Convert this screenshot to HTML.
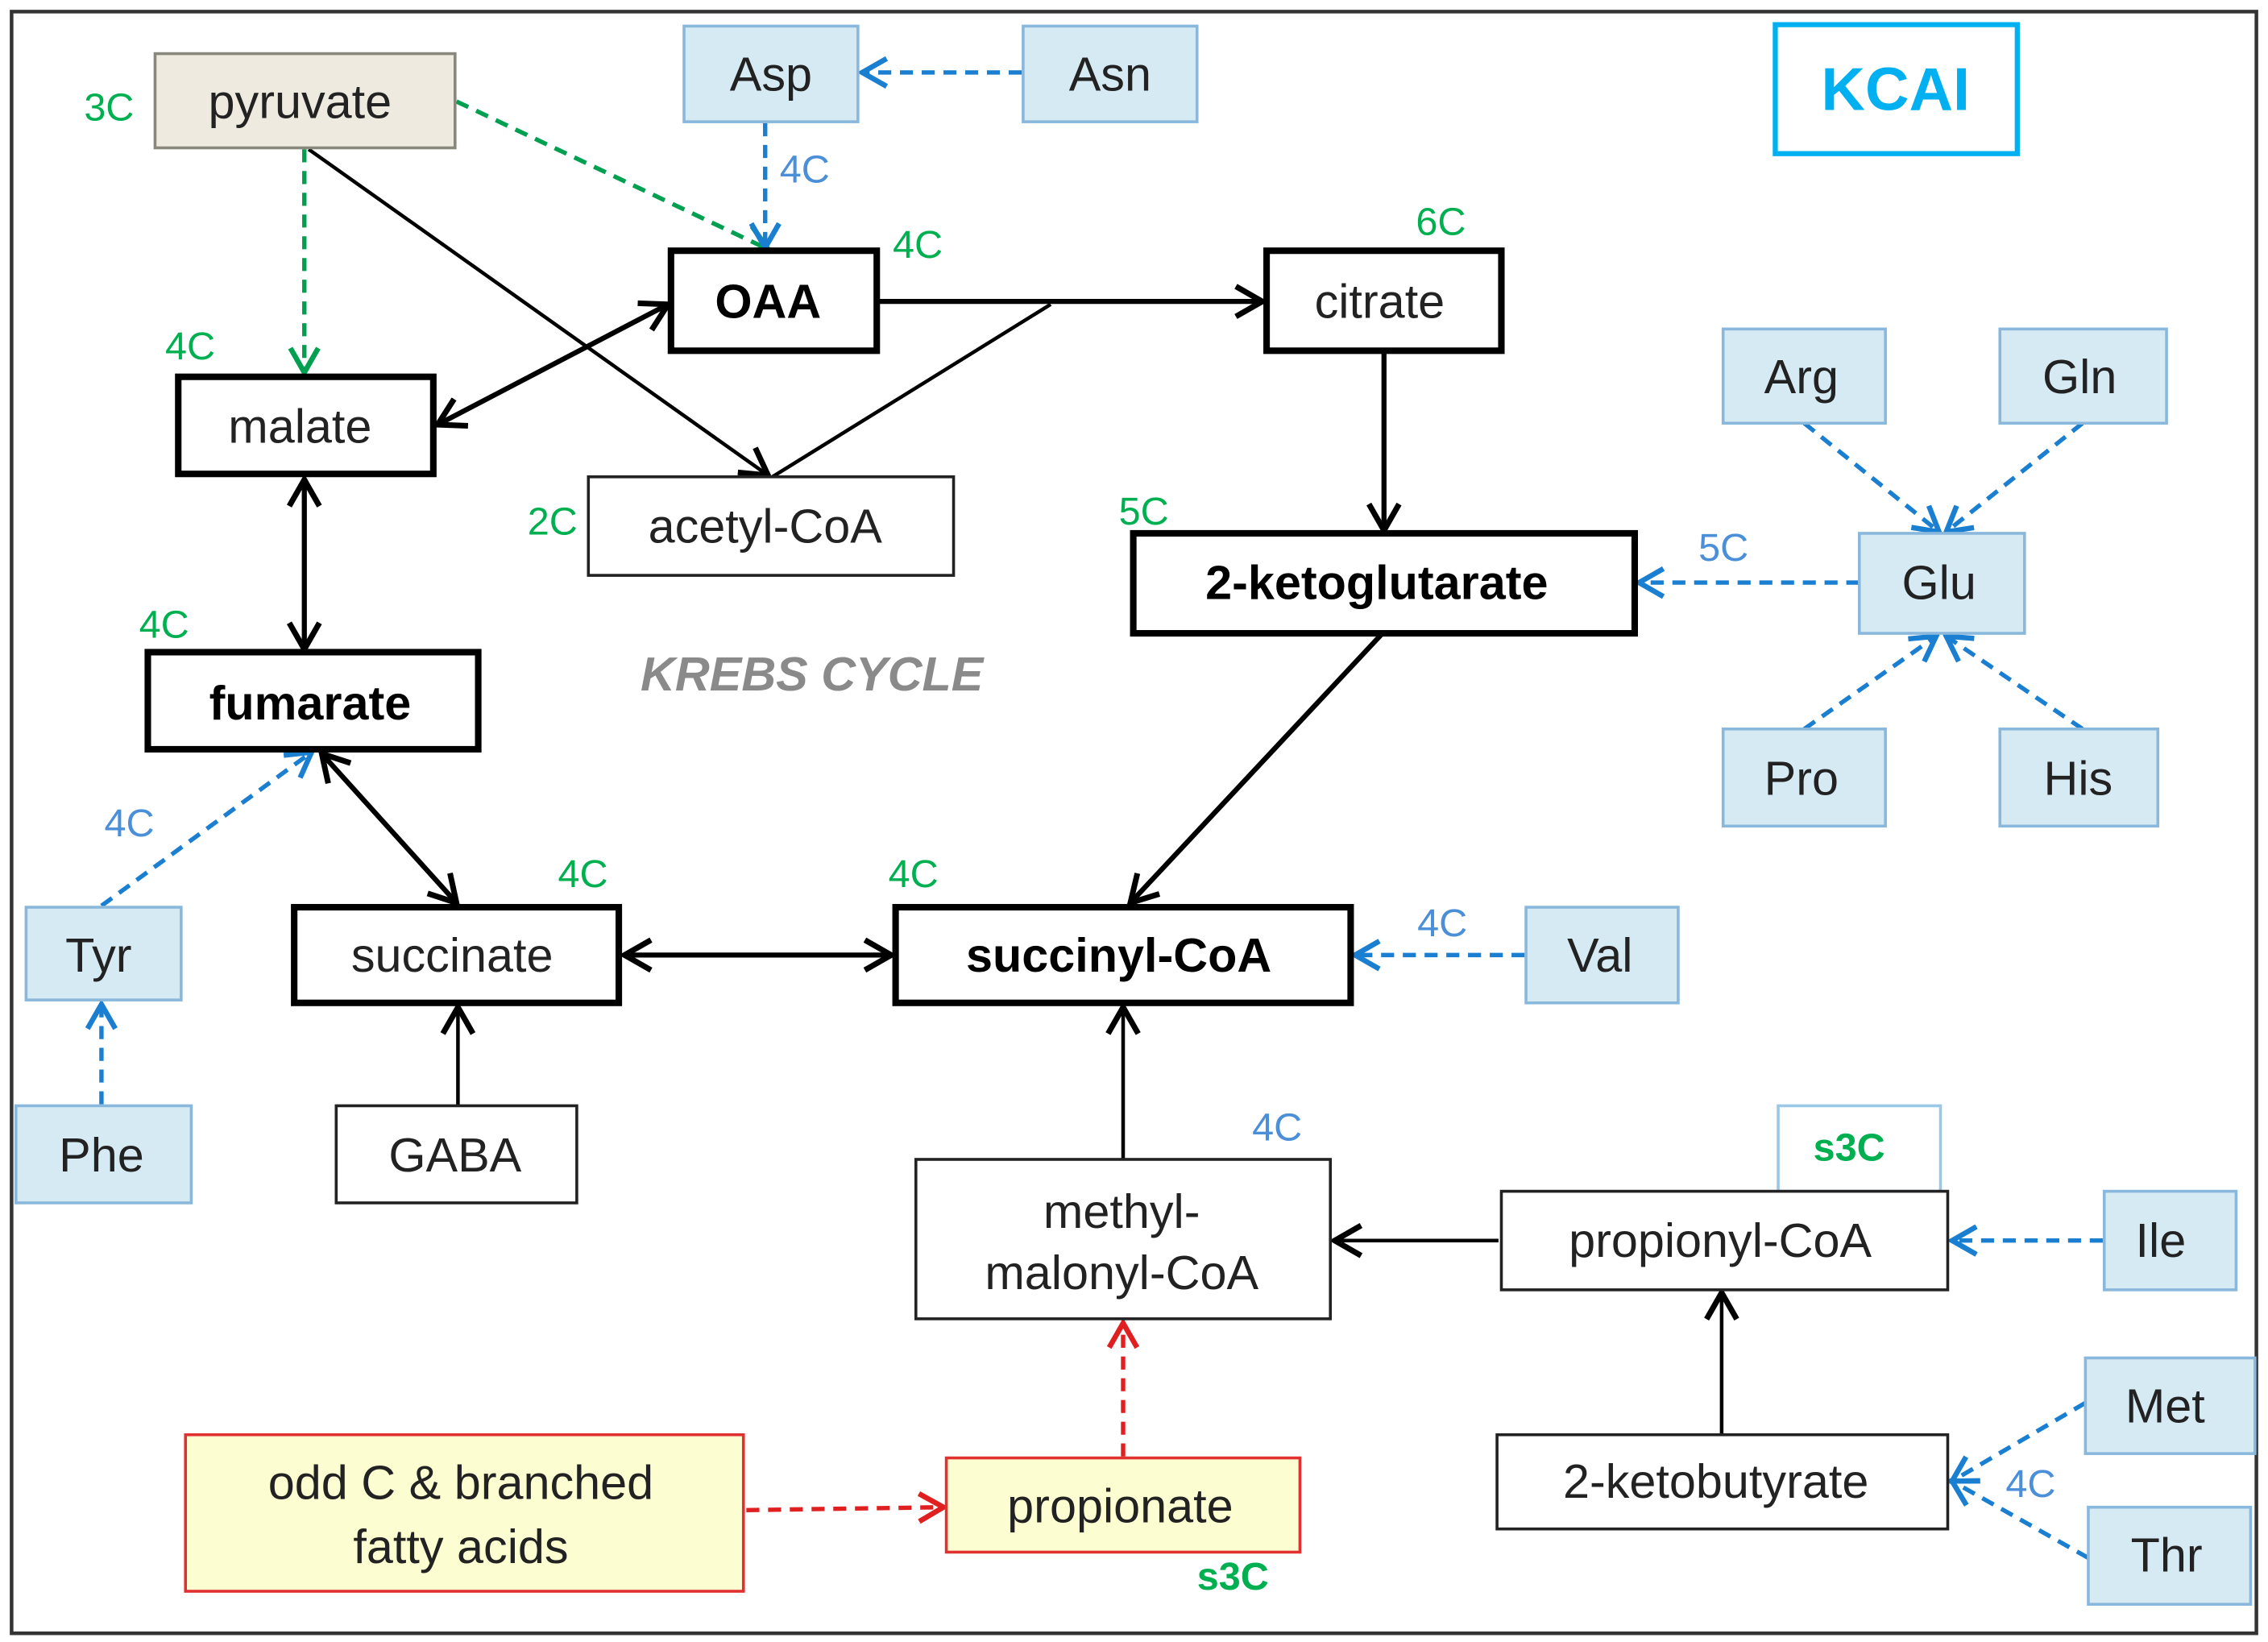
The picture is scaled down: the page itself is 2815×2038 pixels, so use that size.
<!DOCTYPE html>
<html><head><meta charset="utf-8"><style>
html,body{margin:0;padding:0;background:#fff;}
svg{display:block;}
text{font-family:"Liberation Sans",Arial,sans-serif;}
.t{font-size:33px;fill:#222;text-anchor:middle;dominant-baseline:central;}
.b{font-weight:bold;fill:#000;}
.g{font-size:27px;fill:#00b050;}
.bl{font-size:27px;fill:#4a8fd8;}
.aa{fill:#d6eaf4;stroke:#8ab8dc;stroke-width:2;}
.thick{fill:#fff;stroke:#000;stroke-width:4.5;}
.thin{fill:#fff;stroke:#222;stroke-width:2;}
.yel{fill:#fdfdd2;stroke:#e03030;stroke-width:2;}
.k{stroke:#000;stroke-width:3.5;fill:none;}
.kt{stroke:#000;stroke-width:2.5;fill:none;}
.bd{stroke:#1a7fd0;stroke-width:3;stroke-dasharray:9 6;fill:none;}
.gd{stroke:#00a050;stroke-width:3;stroke-dasharray:9 6;fill:none;}
.rd{stroke:#e02020;stroke-width:3;stroke-dasharray:9 6;fill:none;}
</style></head><body>
<svg width="2815" height="2038" viewBox="0 0 1565 1133" xmlns="http://www.w3.org/2000/svg">
<defs>
<marker id="mk" viewBox="0 0 20 20" refX="18" refY="10" markerWidth="7" markerHeight="7" orient="auto-start-reverse" markerUnits="userSpaceOnUse"><polyline points="4,2 18,10 4,18" fill="none" stroke="#000" stroke-width="3"/></marker>
<marker id="mkb" viewBox="0 0 20 20" refX="18" refY="10" markerWidth="26" markerHeight="26" orient="auto-start-reverse" markerUnits="userSpaceOnUse"><polyline points="4,2 18,10 4,18" fill="none" stroke="#000" stroke-width="3"/></marker>
<marker id="mbl" viewBox="0 0 20 20" refX="18" refY="10" markerWidth="24" markerHeight="24" orient="auto" markerUnits="userSpaceOnUse"><polyline points="4,2 18,10 4,18" fill="none" stroke="#1a7fd0" stroke-width="3"/></marker>
<marker id="mg" viewBox="0 0 20 20" refX="18" refY="10" markerWidth="24" markerHeight="24" orient="auto" markerUnits="userSpaceOnUse"><polyline points="4,2 18,10 4,18" fill="none" stroke="#00a050" stroke-width="3"/></marker>
<marker id="mr" viewBox="0 0 20 20" refX="18" refY="10" markerWidth="24" markerHeight="24" orient="auto" markerUnits="userSpaceOnUse"><polyline points="4,2 18,10 4,18" fill="none" stroke="#e02020" stroke-width="3"/></marker>
</defs>
<rect x="0" y="0" width="1565" height="1133" fill="#fff"/>
<rect x="8" y="8" width="1549" height="1119" fill="none" stroke="#333" stroke-width="2.5"/>

<!-- connectors -->
<line class="gd" x1="315" y1="70" x2="530" y2="172" marker-end="url(#mg)"/>
<line class="gd" x1="210" y1="103" x2="210" y2="257" marker-end="url(#mg)"/>
<line class="kt" x1="213" y1="103" x2="530" y2="328" marker-end="url(#mkb)"/>
<line class="kt" x1="533" y1="329" x2="725" y2="210"/>
<line class="k" x1="605" y1="208" x2="871" y2="208" marker-end="url(#mkb)"/>
<line class="k" x1="302" y1="293" x2="461" y2="210" marker-start="url(#mkb)" marker-end="url(#mkb)"/>
<line class="k" x1="955" y1="243" x2="955" y2="366" marker-end="url(#mkb)"/>
<line class="k" x1="210" y1="331" x2="210" y2="448" marker-start="url(#mkb)" marker-end="url(#mkb)"/>
<line class="k" x1="222" y1="520" x2="315" y2="623" marker-start="url(#mkb)" marker-end="url(#mkb)"/>
<line class="k" x1="431" y1="659" x2="615" y2="659" marker-start="url(#mkb)" marker-end="url(#mkb)"/>
<line class="k" x1="953" y1="438" x2="780" y2="623" marker-end="url(#mkb)"/>
<line class="kt" x1="316" y1="763" x2="316" y2="695" marker-end="url(#mkb)"/>
<line class="kt" x1="775" y1="800" x2="775" y2="695" marker-end="url(#mkb)"/>
<line class="kt" x1="1034" y1="856" x2="921" y2="856" marker-end="url(#mkb)"/>
<line class="kt" x1="1188" y1="990" x2="1188" y2="892" marker-end="url(#mkb)"/>
<line class="rd" x1="515" y1="1042" x2="651" y2="1040" marker-end="url(#mr)"/>
<line class="rd" x1="775" y1="1005" x2="775" y2="913" marker-end="url(#mr)"/>
<line class="bd" x1="705" y1="50" x2="595" y2="50" marker-end="url(#mbl)"/>
<line class="bd" x1="528" y1="85" x2="528" y2="171" marker-end="url(#mbl)"/>
<line class="bd" x1="1283" y1="402" x2="1131" y2="402" marker-end="url(#mbl)"/>
<line class="bd" x1="1245" y1="292" x2="1338" y2="367" marker-end="url(#mbl)"/>
<line class="bd" x1="1437" y1="292" x2="1343" y2="367" marker-end="url(#mbl)"/>
<line class="bd" x1="1245" y1="503" x2="1336" y2="439" marker-end="url(#mbl)"/>
<line class="bd" x1="1437" y1="503" x2="1343" y2="439" marker-end="url(#mbl)"/>
<line class="bd" x1="70" y1="625" x2="215" y2="519" marker-end="url(#mbl)"/>
<line class="bd" x1="70" y1="762" x2="70" y2="693" marker-end="url(#mbl)"/>
<line class="bd" x1="1052" y1="659" x2="935" y2="659" marker-end="url(#mbl)"/>
<line class="bd" x1="1451" y1="856" x2="1347" y2="856" marker-end="url(#mbl)"/>
<line class="bd" x1="1439" y1="968" x2="1347" y2="1022" marker-end="url(#mbl)"/>
<line class="bd" x1="1441" y1="1075" x2="1347" y2="1022" marker-end="url(#mbl)"/>

<!-- nodes -->
<rect x="107" y="37" width="207" height="65" fill="#eeeae0" stroke="#8a887c" stroke-width="2"/>
<text class="t" x="207" y="70">pyruvate</text>
<rect class="aa" x="472" y="18" width="120" height="66"/><text class="t" x="532" y="51">Asp</text>
<rect class="aa" x="706" y="18" width="120" height="66"/><text class="t" x="766" y="51">Asn</text>
<rect x="1225" y="17" width="167" height="89" fill="#fff" stroke="#00b0f0" stroke-width="3.5"/>
<text x="1308" y="62" font-size="42" font-weight="bold" fill="#00b0f0" text-anchor="middle" dominant-baseline="central">KCAI</text>
<rect class="thick" x="463" y="173" width="142" height="69"/><text class="t b" x="530" y="208">OAA</text>
<rect class="thick" x="874" y="173" width="162" height="69"/><text class="t" x="952" y="208">citrate</text>
<rect class="thick" x="123" y="260" width="176" height="67"/><text class="t" x="207" y="294">malate</text>
<rect class="thin" x="406" y="329" width="252" height="68"/><text class="t" x="528" y="363">acetyl-CoA</text>
<rect class="aa" x="1189" y="227" width="112" height="65"/><text class="t" x="1243" y="260">Arg</text>
<rect class="aa" x="1380" y="227" width="115" height="65"/><text class="t" x="1435" y="260">Gln</text>
<rect class="aa" x="1283" y="368" width="114" height="69"/><text class="t" x="1338" y="402">Glu</text>
<rect class="aa" x="1189" y="503" width="112" height="67"/><text class="t" x="1243" y="537">Pro</text>
<rect class="aa" x="1380" y="503" width="109" height="67"/><text class="t" x="1434" y="537">His</text>
<rect class="thick" x="782" y="368" width="346" height="69"/><text class="t b" x="950" y="402">2-ketoglutarate</text>
<rect class="thick" x="102" y="450" width="228" height="67"/><text class="t b" x="214" y="485">fumarate</text>
<text x="442" y="465" font-size="33" font-weight="bold" font-style="italic" fill="#8a8a8a" dominant-baseline="central">KREBS CYCLE</text>
<rect class="aa" x="18" y="626" width="107" height="64"/><text class="t" x="68" y="659">Tyr</text>
<rect class="aa" x="11" y="763" width="121" height="67"/><text class="t" x="70" y="797">Phe</text>
<rect class="thick" x="203" y="626" width="224" height="66"/><text class="t" x="312" y="659">succinate</text>
<rect class="thick" x="618" y="626" width="314" height="66"/><text class="t b" x="772" y="659">succinyl-CoA</text>
<rect class="aa" x="1053" y="626" width="105" height="66"/><text class="t" x="1104" y="659">Val</text>
<rect class="thin" x="232" y="763" width="166" height="67"/><text class="t" x="314" y="797">GABA</text>
<rect class="thin" x="632" y="800" width="286" height="110"/>
<text class="t" x="774" y="836">methyl-</text><text class="t" x="774" y="878">malonyl-CoA</text>
<rect x="1227" y="763" width="112" height="59" fill="#fff" stroke="#9cc8e8" stroke-width="2"/>
<text class="g" x="1276" y="792" font-weight="bold" text-anchor="middle" dominant-baseline="central">s3C</text>
<rect class="thin" x="1036" y="822" width="308" height="68"/><text class="t" x="1187" y="856">propionyl-CoA</text>
<rect class="aa" x="1452" y="822" width="91" height="68"/><text class="t" x="1491" y="856">Ile</text>
<rect class="aa" x="1439" y="937" width="117" height="66"/><text class="t" x="1494" y="970">Met</text>
<rect class="aa" x="1441" y="1040" width="112" height="67"/><text class="t" x="1495" y="1073">Thr</text>
<rect class="thin" x="1033" y="990" width="311" height="65"/><text class="t" x="1184" y="1022">2-ketobutyrate</text>
<rect class="yel" x="128" y="990" width="385" height="108"/>
<text class="t" x="318" y="1023">odd C &amp; branched</text><text class="t" x="318" y="1067">fatty  acids</text>
<rect class="yel" x="653" y="1006" width="244" height="65"/><text class="t" x="773" y="1039">propionate</text>

<!-- carbon labels -->
<text class="g" x="58" y="83">3C</text>
<text class="g" x="616" y="178">4C</text>
<text class="bl" x="538" y="126">4C</text>
<text class="g" x="977" y="162">6C</text>
<text class="g" x="114" y="248">4C</text>
<text class="g" x="364" y="369">2C</text>
<text class="bl" x="1172" y="387">5C</text>
<text class="g" x="772" y="362">5C</text>
<text class="g" x="96" y="440">4C</text>
<text class="bl" x="72" y="577">4C</text>
<text class="g" x="385" y="612">4C</text>
<text class="g" x="613" y="612">4C</text>
<text class="bl" x="978" y="646">4C</text>
<text class="bl" x="864" y="787">4C</text>
<text class="bl" x="1384" y="1033">4C</text>
<text class="g" x="826" y="1097" font-weight="bold">s3C</text>
</svg>
</body></html>
